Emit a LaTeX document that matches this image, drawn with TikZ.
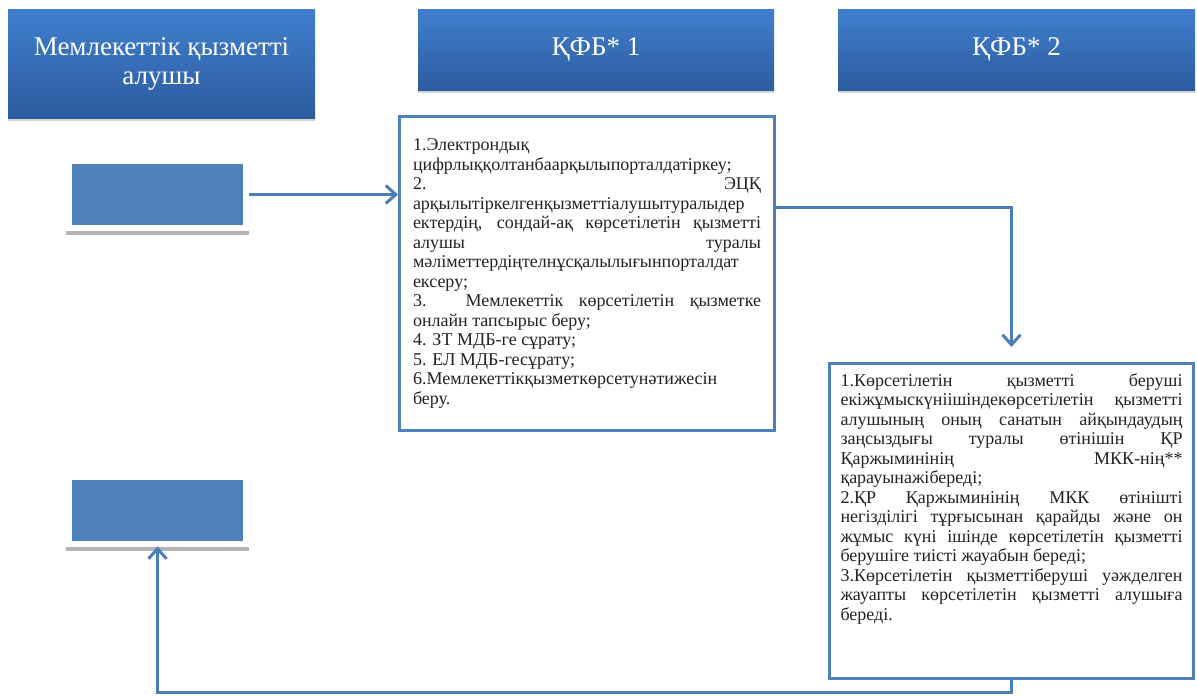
\documentclass[tikz,border=0pt]{standalone}
\usepackage{fontspec}
\setmainfont{Liberation Serif}
\usetikzlibrary{arrows.meta,shadows}
\definecolor{hdrtop}{RGB}{64,127,207}
\definecolor{hdrbot}{RGB}{44,92,158}
\definecolor{boxblue}{RGB}{79,129,189}
\definecolor{linkblue}{RGB}{74,126,187}
\definecolor{txtgray}{RGB}{35,35,35}
\tikzset{>={Straight Barb[length=10pt,width=18pt]}}
\tikzset{
	header/.style={rectangle,top color=hdrtop,bottom color=hdrbot,draw=none,text=white,align=center,font=\fontsize{27}{29}\selectfont,drop shadow={shadow xshift=0pt,shadow yshift=-3pt,opacity=0.35}},
	stub/.style={rectangle,fill=boxblue,draw=white,line width=6pt,minimum width=177pt,minimum height=67pt,drop shadow={shadow xshift=0pt,shadow yshift=-6pt,shadow scale=1.03,fill=gray,opacity=0.6}},
	tbox/.style={rectangle,draw=boxblue,fill=white,line width=3pt,inner sep=0pt,text=txtgray,font=\fontsize{18}{19.5}\selectfont,drop shadow={shadow xshift=1.5pt,shadow yshift=-1.5pt,opacity=0.25}},
	directed/.style={draw=linkblue,line width=3pt,->},
}
\begin{document}
\begin{tikzpicture}[x=1pt,y=-1pt]
	\useasboundingbox (0,0) rectangle (1197,696);
	\node[header,minimum width=307pt,minimum height=109pt] (recv) at (161.5,63.5) {Мемлекеттік қызметті\\алушы};
	\node[header,minimum width=356pt,minimum height=81pt] (cfb1) at (596,49.5) {ҚФБ* 1};
	\node[header,minimum width=357pt,minimum height=81pt] (cfb2) at (1016.5,49.5) {ҚФБ* 2};

	\node[stub] (boxa) at (157.5,194.5) {};
	\node[stub] (boxb) at (157.5,510) {};

	\node[tbox,minimum width=375pt,minimum height=314pt] (box1) at (587,273.5) {\parbox{348pt}{%
		1.Электрондық\newline
		цифрлыққолтанбаарқылыпорталдатіркеу;\newline
		2. ЭЦҚ\linebreak
		арқылытіркелгенқызметтіалушытуралыдер\newline
		ектердің, сондай-ақ көрсетілетін қызметті\linebreak
		алушы туралы\linebreak
		мәліметтердіңтелнұсқалылығынпорталдат\newline
		ексеру;\newline
		3. Мемлекеттік көрсетілетін қызметке\linebreak
		онлайн тапсырыс беру;\newline
		4. ЗТ МДБ-ге сұрату;\newline
		5. ЕЛ МДБ-гесұрату;\newline
		6.Мемлекеттікқызметкөрсетунәтижесін\newline
		беру.}};
	\node[tbox,minimum width=364pt,minimum height=315pt] (box2) at (1011.5,521) {\parbox[c][295pt][t]{342pt}{%
		1.Көрсетілетін қызметті беруші\linebreak
		екіжұмыскүніішіндекөрсетілетін қызметті\linebreak
		алушының оның санатын айқындаудың\linebreak
		заңсыздығы туралы өтінішін ҚР\linebreak
		Қаржыминінің МКК-нің**\linebreak
		қарауынажібереді;\newline
		2.ҚР Қаржыминінің МКК өтінішті\linebreak
		негізділігі тұрғысынан қарайды және он\linebreak
		жұмыс күні ішінде көрсетілетін қызметті\linebreak
		берушіге тиісті жауабын береді;\newline
		3.Көрсетілетін қызметтіберуші уәжделген\linebreak
		жауапты көрсетілетін қызметті алушыға\linebreak
		береді.}};

	\draw[directed] (boxa.east) -- (boxa.east -| box1.west);
	\draw[directed] ([yshift=66pt]box1.east) -| ([yshift=15pt]box2.north);
	\draw[directed] (box2.south) -- ++(0,12) -| (boxb.south);
\end{tikzpicture}
\end{document}
